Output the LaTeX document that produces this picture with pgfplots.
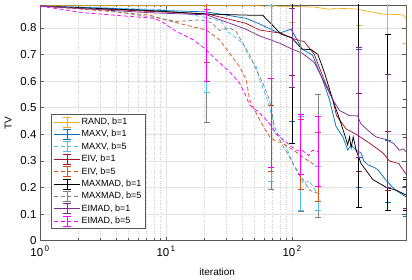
\documentclass[border=0pt]{standalone}
\usepackage{fontspec}
\setmainfont{Liberation Sans}
\usepackage{pgfplots}
\pgfplotsset{compat=1.18}
\definecolor{cRAND}{HTML}{EDB120}
\definecolor{cMAXV}{HTML}{0072BD}
\definecolor{cMAXVb}{HTML}{4DBEEE}
\definecolor{cEIV}{HTML}{A2142F}
\definecolor{cEIVb}{HTML}{D95319}
\definecolor{cMM}{HTML}{000000}
\definecolor{cMMb}{HTML}{808080}
\definecolor{cEIM}{HTML}{7E2F8E}
\definecolor{cEIMb}{HTML}{FF00FF}
\pgfplotsset{
  ebar/.style={draw=none, mark=none, forget plot,
    error bars/.cd, y dir=both, y explicit,
    error bar style={draw=#1, solid, line width=0.75bp},
    error mark options={draw=#1, rotate=90, mark size=3bp, solid, line width=0.75bp}},
  dsh/.style={dash pattern=on 4bp off 2.5bp},
}
\begin{document}
\begin{tikzpicture}
\begin{axis}[
  scale only axis, width=366bp, height=235.7bp,
  xmode=log, xmin=1, xmax=800, ymin=0, ymax=0.886,
  xtick={1,10,100}, xticklabels={{10\textsuperscript{\,0}},{10\textsuperscript{\,1}},{10\textsuperscript{\,2}}},
  ytick={0,0.1,0.2,0.3,0.4,0.5,0.6,0.7,0.8},
  yticklabel style={/pgf/number format/fixed, /pgf/number format/precision=1},
  xticklabel style={yshift=-2bp},
  /pgf/number format/assume math mode=true,
  tick label style={font=\fontsize{11.5bp}{13bp}\selectfont},
  label style={font=\fontsize{12bp}{14bp}\selectfont},
  xlabel={iteration}, ylabel={TV},
  every axis x label/.style={at={(axis description cs:0.484,-0.133)}, anchor=center},
  every axis y label/.style={at={(axis description cs:-0.087,0.5)}, rotate=90, anchor=center},
  grid=major, xminorgrids=true,
  major grid style={gray!22, line width=0.5bp},
  minor grid style={gray!40, dotted, line width=0.5bp},
  axis line style={black!65, line width=0.6bp},
  tick style={black!65, line width=0.5bp},
  major tick length=4bp, minor tick length=2.5bp,
  tick align=inside,
  legend cell align=left,
  legend style={at={(0.029,0.050)}, anchor=south west, draw=black!65, line width=0.5bp,
    font=\fontsize{9bp}{11bp}\selectfont, row sep=1.4bp, inner xsep=3bp, inner ysep=2bp,
    nodes={inner sep=1bp, text height=7bp, text depth=2bp}},
  legend image code/.code={
    \draw[#1, line width=0.75bp] (0bp,0bp) -- (26bp,0bp);
    \draw[#1, solid, line width=0.75bp] (13bp,-5bp) -- (13bp,5bp) (9bp,5bp) -- (17bp,5bp) (9bp,-5bp) -- (17bp,-5bp);
  },
  every axis plot/.append style={line width=0.75bp},
]
% RAND b=1
\addplot[cRAND] coordinates {(1,0.883) (50,0.883) (100,0.881) (150,0.878) (198,0.870) (223,0.874) (280,0.872) (322,0.871) (410,0.861) (523,0.852) (600,0.851) (700,0.850) (760,0.848) (800,0.836)};
\addlegendentry{RAND, b=1}
% MAXV b=1
\addplot[cMAXV] coordinates {(1,0.882) (3,0.875) (7.4,0.867) (21,0.860) (43,0.836) (55,0.815) (79,0.78) (98,0.795) (108,0.76) (120,0.72) (145,0.698) (175,0.604) (198,0.529) (223,0.429) (252,0.391) (276,0.341) (294,0.36) (322,0.34) (352,0.33) (370,0.30) (400,0.285) (450,0.275) (480,0.266) (560,0.225) (660,0.19) (800,0.165)};
\addlegendentry{MAXV, b=1}
% MAXV b=5
\addplot[cMAXVb, dsh] coordinates {(1,0.882) (3,0.876) (10,0.868) (16.4,0.848) (22.2,0.836) (27.5,0.824) (31,0.785) (36.1,0.761) (40.7,0.742) (46,0.686) (52,0.654) (55.2,0.604) (62.4,0.541) (68.3,0.479) (72.6,0.41) (82,0.39) (89.8,0.353) (101,0.291) (111,0.26) (122,0.216) (137,0.225) (155,0.184) (160,0.178)};
\addlegendentry{MAXV, b=5}
% EIV b=1
\addplot[cEIV] coordinates {(1,0.882) (7.4,0.862) (21,0.853) (43,0.817) (55,0.792) (82,0.78) (101,0.76) (125,0.748) (150,0.70) (181,0.60) (210,0.53) (225,0.47) (268,0.42) (322,0.40) (410,0.367) (525,0.33) (590,0.30) (700,0.29) (800,0.25)};
\addlegendentry{EIV, b=1}
% EIV b=5
\addplot[cEIVb, dsh] coordinates {(1,0.882) (3,0.865) (7.4,0.848) (10.7,0.826) (14.5,0.81) (20.9,0.792) (26.6,0.755) (31.9,0.704) (38.3,0.654) (43.3,0.604) (46,0.529) (55.2,0.454) (66.2,0.391) (74.8,0.372) (82,0.37) (95,0.35) (110,0.33) (125,0.31) (145,0.29) (160,0.278)};
\addlegendentry{EIV, b=5}
% MAXMAD b=1
\addplot[cMM] coordinates {(1,0.882) (7.4,0.865) (21,0.852) (43,0.848) (58.6,0.847) (82,0.776) (99,0.763) (120,0.72) (142,0.718) (160,0.70) (181,0.63) (210,0.529) (239,0.454) (260,0.40) (276,0.36) (285,0.39) (294,0.35) (305,0.39) (322,0.34) (352,0.29) (436,0.23) (560,0.20) (667,0.19) (800,0.172)};
\addlegendentry{MAXMAD, b=1}
% MAXMAD b=5
\addplot[cMMb, dsh] coordinates {(1,0.882) (3,0.87) (8.9,0.836) (12.1,0.824) (18.5,0.83) (22.8,0.82) (26.6,0.79) (31.9,0.80) (36.1,0.785) (40.7,0.742) (46,0.698) (52,0.642) (58.6,0.592) (66.2,0.529) (72.6,0.429) (82,0.366) (95.4,0.316) (108,0.266) (122,0.23) (137,0.19) (160,0.178)};
\addlegendentry{MAXMAD, b=5\hspace{10bp}}
% EIMAD b=1
\addplot[cEIM] coordinates {(1,0.882) (7.4,0.857) (21,0.849) (43,0.795) (55,0.77) (80,0.742) (100,0.72) (120,0.705) (150,0.67) (181,0.592) (210,0.53) (237,0.49) (285,0.47) (330,0.47) (350,0.44) (410,0.41) (463,0.39) (560,0.38) (640,0.365) (708,0.34) (760,0.345) (800,0.335)};
\addlegendentry{EIMAD, b=1}
% EIMAD b=5
\addplot[cEIMb, dsh] coordinates {(1,0.882) (2.2,0.857) (8,0.836) (9.5,0.82) (11.7,0.79) (16.4,0.755) (20.9,0.717) (25.1,0.679) (31.9,0.635) (38.3,0.592) (43.3,0.54) (46,0.51) (55.2,0.48) (66.2,0.44) (74.8,0.40) (82,0.385) (95,0.36) (108,0.34) (120,0.34) (135,0.32) (145,0.34) (160,0.335)};
\addlegendentry{EIMAD, b=5}

% error bars, b=5 series
\addplot[ebar=cMMb] coordinates {(21,0.823) +- (0,0.377) (68,0.597) +- (0,0.403) (117,0.53) +- (0,0.42) (160,0.319) +- (0,0.231)};
\addplot[ebar=cMAXVb] coordinates {(21,0.848) +- (0,0.292) (68,0.555) +- (0,0.331) (117,0.291) +- (0,0.178) (160,0.1955) +- (0,0.0825)};
\addplot[ebar=cEIVb] coordinates {(21,0.81) +- (0,0.14) (68,0.385) +- (0,0.124) (117,0.3245) +- (0,0.1315) (160,0.278) +- (0,0.13)};
\addplot[ebar=cEIMb] coordinates {(21,0.735) +- (0,0.135) (68,0.4425) +- (0,0.1665) (117,0.3625) +- (0,0.1125) (160,0.3375) +- (0,0.1315)};
% error bars, b=1 series
\addplot[ebar=cRAND] coordinates {(100,0.88) +- (0,0.06) (336,0.87) +- (0,0.06) (573,0.852) +- (0,0.078) (800,0.836) +- (0,0.096)};
\addplot[ebar=cMAXV] coordinates {(100,0.76) +- (0,0.31) (336,0.46) +- (0,0.26) (573,0.2595) +- (0,0.1165) (800,0.165) +- (0,0.072)};
\addplot[ebar=cEIV] coordinates {(100,0.76) +- (0,0.14) (336,0.407) +- (0,0.147) (573,0.30) +- (0,0.11) (800,0.255) +- (0,0.135)};
\addplot[ebar=cMM] coordinates {(100,0.763) +- (0,0.397) (336,0.51) +- (0,0.385) (573,0.4435) +- (0,0.3305) (800,0.1715) +- (0,0.0585)};
\addplot[ebar=cEIM] coordinates {(100,0.7255) +- (0,0.1485) (336,0.52) +- (0,0.205) (573,0.4135) +- (0,0.2135) (800,0.3675) +- (0,0.1645)};
\end{axis}
\pgfresetboundingbox
\path[use as bounding box] (-40bp,-39.3bp) rectangle (372bp,240.7bp);
\end{tikzpicture}
\end{document}
